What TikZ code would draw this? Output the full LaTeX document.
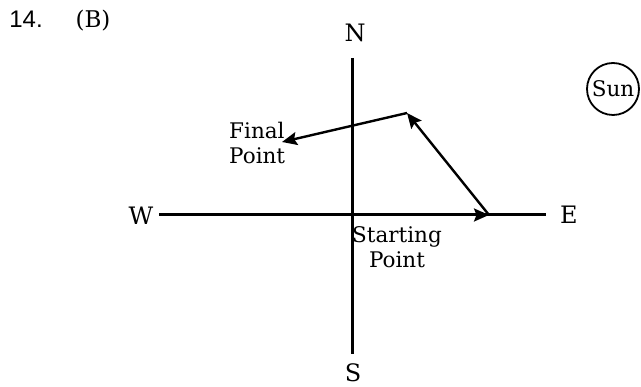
\documentclass[tikz,border=0pt]{standalone}
\usepackage{fontspec}
\setmainfont{DejaVu Serif}
\newfontfamily\numfont{Liberation Sans}
\usetikzlibrary{arrows.meta}

\begin{document}
\begin{tikzpicture}[x=1pt,y=-1pt,font=\fontsize{21.5}{25}\selectfont,
  axis/.style={line width=3pt},
  walk/.style={-{Stealth[length=15pt,width=13pt,inset=2.5pt]},line width=2.4pt},
  lbl/.style={inner sep=0pt},
  dir/.style={lbl,font=\fontsize{24}{28}\selectfont}]
\useasboundingbox (0,0) rectangle (641,387);
% question number
\node[lbl,font=\numfont\fontsize{24}{28}\selectfont] (qno) at (26,19) {14.};
\node[lbl,font=\fontsize{23}{26}\selectfont] (ans) at (93,21) {(B)};
% compass
\node[dir] (n) at (355,33) {N};
\node[dir] (s) at (353,373) {S};
\node[dir] (w) at (141,216) {W};
\node[dir] (e) at (569,215) {E};
\coordinate (nEnd) at (352,58);
\coordinate (sEnd) at (352,354);
\coordinate (wEnd) at (159,215);
\coordinate (eEnd) at (546,215);
\draw[axis] (nEnd) -- (sEnd);
\draw[axis] (wEnd) -- (eEnd);
% walk
\coordinate (o) at (352,215);
\coordinate (p1) at (489,215);
\coordinate (p2) at (407,113);
\coordinate (fin) at (282,142);
\draw[walk] (o) -- (p1);
\draw[walk] (p1) -- (p2);
\draw[walk] (p2) -- (fin);
\node[lbl,align=left,anchor=west] (finLbl) at (229,143) {Final\\Point};
\node[lbl,align=center] (startLbl) at (397,247) {Starting\\Point};
% sun
\node[draw,circle,line width=1.8pt,minimum size=52pt,inner sep=0pt] (sun) at (613,89) {Sun};
\end{tikzpicture}
\end{document}
